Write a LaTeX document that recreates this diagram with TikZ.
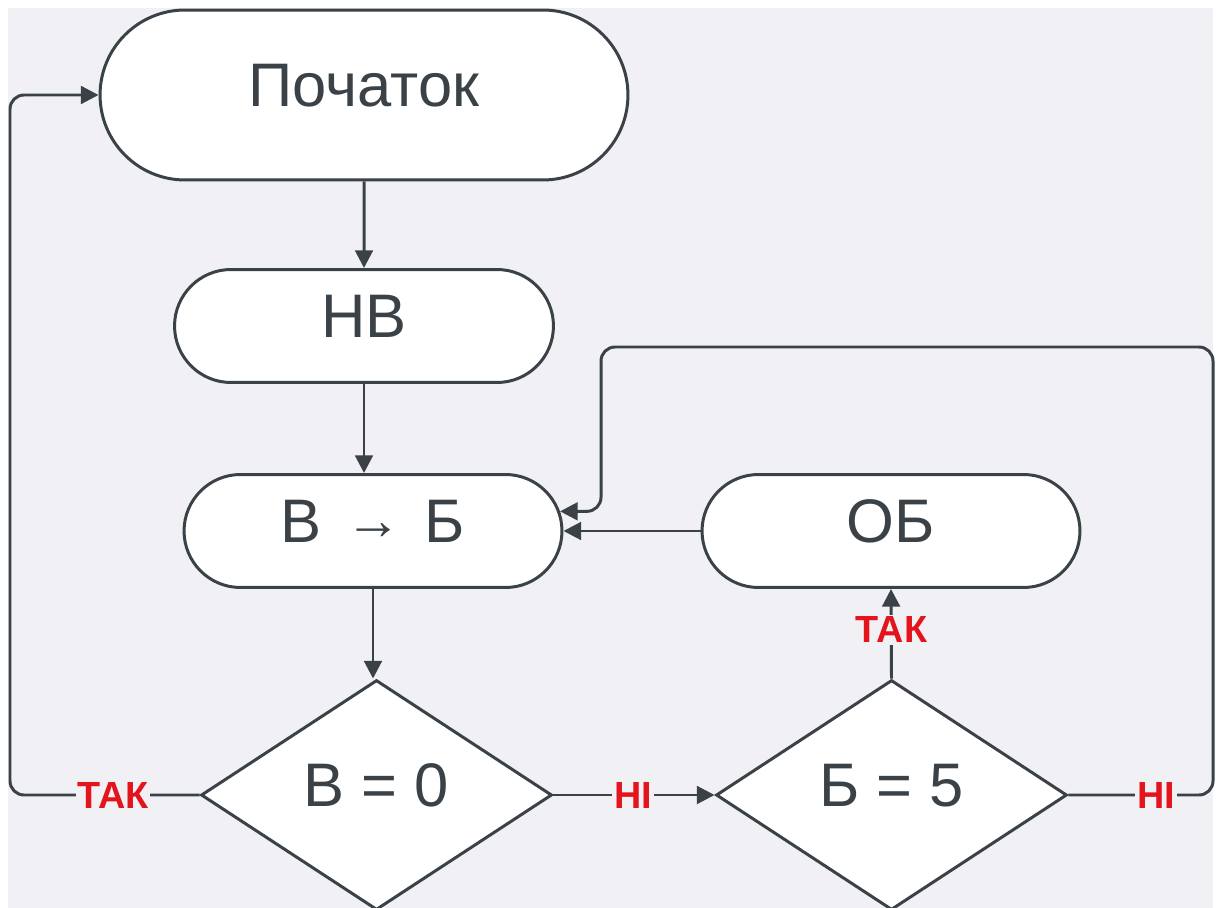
\documentclass[tikz,border=0pt]{standalone}
\usepackage{fontspec}
\setmainfont{Liberation Sans}
\usepackage{tikz}
\usetikzlibrary{shapes.misc,shapes.geometric,arrows.meta,positioning,calc}
\definecolor{flowInk}{HTML}{3A4248}
\definecolor{flowRed}{HTML}{E3141B}
\definecolor{flowBg}{HTML}{F0F0F5}

\begin{document}
\begin{tikzpicture}[x=0.02cm, y=-0.02cm,
  every node/.style={font=\fontsize{35pt}{40pt}\selectfont, text=flowInk},
  term/.style={draw=flowInk, line width=1.7pt, fill=white, rounded rectangle, inner sep=0pt, text depth=11pt},
  decide/.style={draw=flowInk, line width=1.7pt, fill=white, diamond, inner sep=0pt, text depth=11pt, minimum width=7.02cm, minimum height=4.6cm},
  conn/.style={draw=flowInk, line width=1.7pt, rounded corners=8pt, -{Triangle[length=10pt, width=10pt]}},
  lbl/.style={font=\fontsize{21.5pt}{24pt}\selectfont\bfseries, text=flowRed, fill=flowBg, inner sep=1pt}]
  \useasboundingbox (0,0) rectangle (1216,908);
  \fill[flowBg] (8,8) rectangle (1213,908);
  % Terminals
  \node[term, minimum width=10.56cm, minimum height=3.4cm] (start) at (364,95) {Початок};
  \node[term, minimum width=7.58cm, minimum height=2.26cm] (nv) at (364,326) {НВ};
  \node[term, minimum width=7.56cm, minimum height=2.26cm] (bv) at (373,531) {В\hspace{0.38em}{\fontsize{32pt}{34pt}\selectfont\raisebox{1.5pt}{→}}\hspace{0.38em}Б};
  \node[term, minimum width=7.56cm, minimum height=2.26cm] (ob) at (891,531) {ОБ};
  % Decisions
  \node[decide] (d1) at (376.5,795) {В = 0};
  \node[decide] (d2) at (891.5,795) {Б = 5};
  % Loop corners
  \coordinate (lft) at (10,95);
  \coordinate (rtop) at (601,347);
  % Arrows
  \draw[conn] (start) -- (nv);
  \draw[conn] (nv.south) -- (nv.south |- bv.north);
  \draw[conn] (bv.south) -- (bv.south |- d1.north);
  \draw[conn] (d1.east) -- (d2.west);
  \draw[conn] (d2.north) -- (ob.south);
  \draw[conn] (ob.west) -- (bv.east);
  \draw[conn] (d1.west) -| (lft) -- (start.west);
  \draw[conn] (d2.east) -- (1213,795) -- (1213,347) -- (rtop) -- (rtop |- bv.6) -- (bv.6);
  % Labels
  \node[lbl] (yes1) at (113,795) {ТАК};
  \node[lbl] (no1) at (633,795) {НІ};
  \node[lbl] (yes2) at (891.5,630) {ТАК};
  \node[lbl] (no2) at (1156,795) {НІ};
\end{tikzpicture}
\end{document}
